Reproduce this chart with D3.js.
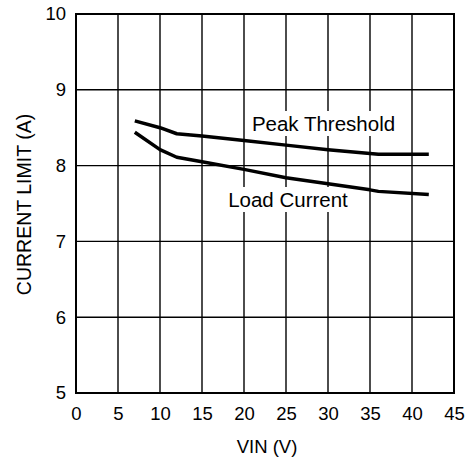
<!DOCTYPE html>
<html>
<head>
<meta charset="utf-8">
<script src="https://cdn.jsdelivr.net/npm/d3@7"></script>
<style>
  body { margin: 0; background: #fff; }
  text { font-family: "Liberation Sans", Arial, sans-serif; fill: #000; }
</style>
</head>
<body>
<svg width="467" height="467"></svg>
<script>
// values
var vin  = [7, 10, 12, 15, 20, 25, 30, 35, 36, 42];
var peak = [8.59, 8.50, 8.42, 8.39, 8.33, 8.27, 8.21, 8.16, 8.15, 8.15];
var load = [8.44, 8.21, 8.11, 8.05, 7.95, 7.84, 7.76, 7.68, 7.66, 7.62];

var xTicks = [0, 5, 10, 15, 20, 25, 30, 35, 40, 45];
var yTicks = [5, 6, 7, 8, 9, 10];

var svg = d3.select("svg"),
    margin = {top: 14, right: 13, bottom: 74, left: 76},
    w = +svg.attr("width") - margin.left - margin.right,
    h = +svg.attr("height") - margin.top - margin.bottom;

var x = d3.scaleLinear().domain([0, 45]).range([0, w]),
    y = d3.scaleLinear().domain([5, 10]).range([h, 0]);

var g = svg.append("g")
    .attr("transform", "translate(" + margin.left + "," + margin.top + ")");

// grid
g.selectAll(".vgrid").data(xTicks.slice(1, -1)).enter().append("line")
    .attr("x1", d => x(d)).attr("x2", d => x(d))
    .attr("y1", 0).attr("y2", h)
    .attr("stroke", "#000").attr("stroke-width", 1.4);

g.selectAll(".hgrid").data(yTicks.slice(1, -1)).enter().append("line")
    .attr("x1", 0).attr("x2", w)
    .attr("y1", d => y(d)).attr("y2", d => y(d))
    .attr("stroke", "#000").attr("stroke-width", 1.4);

// frame
g.append("rect")
    .attr("width", w).attr("height", h)
    .attr("fill", "none").attr("stroke", "#000").attr("stroke-width", 2);

// axes (labels only)
var xAxis = d3.axisBottom(x).tickValues(xTicks).tickFormat(d3.format("d")).tickSize(0).tickPadding(14),
    yAxis = d3.axisLeft(y).tickValues(yTicks).tickFormat(d3.format("d")).tickSize(0).tickPadding(10);

var xa = g.append("g").attr("transform", "translate(0," + h + ")").call(xAxis);
var ya = g.append("g").call(yAxis);
[xa, ya].forEach(function(a) {
  a.select(".domain").remove();
  a.selectAll("text").style("font-size", "18.5px")
    .style("font-family", "'Liberation Sans', Arial, sans-serif");
});

// curve labels with white boxes knocking out grid
function label(txt, cx, by) {
  var lg = g.append("g");
  var box = lg.append("rect").attr("fill", "#fff");
  var t = lg.append("text")
      .attr("x", cx).attr("y", by)
      .attr("text-anchor", "middle")
      .style("font-size", "20.5px")
      .text(txt);
  var b = t.node().getBBox();
  box.attr("x", b.x - 3).attr("y", b.y - 1)
      .attr("width", b.width + 6).attr("height", b.height + 2);
}

var line = d3.line()
    .x(function(d, i) { return x(vin[i]); })
    .y(function(d) { return y(d); });

label("Peak Threshold", 323.5 - margin.left, 131 - margin.top);
label("Load Current", 288 - margin.left, 207 - margin.top);

[peak, load].forEach(function(s) {
  g.append("path")
      .datum(s)
      .attr("d", line)
      .attr("fill", "none")
      .attr("stroke", "#000")
      .attr("stroke-width", 3.5)
      .attr("stroke-linejoin", "round");
});

// axis titles
svg.append("text")
    .attr("x", margin.left + w / 2 + 2).attr("y", 453)
    .attr("text-anchor", "middle")
    .style("font-size", "18.5px")
    .text("VIN (V)");

svg.append("text")
    .attr("transform", "translate(31," + (margin.top + h / 2 + 1) + ") rotate(-90)")
    .attr("text-anchor", "middle")
    .style("font-size", "19.5px")
    .text("CURRENT LIMIT (A)");
</script>
</body>
</html>
